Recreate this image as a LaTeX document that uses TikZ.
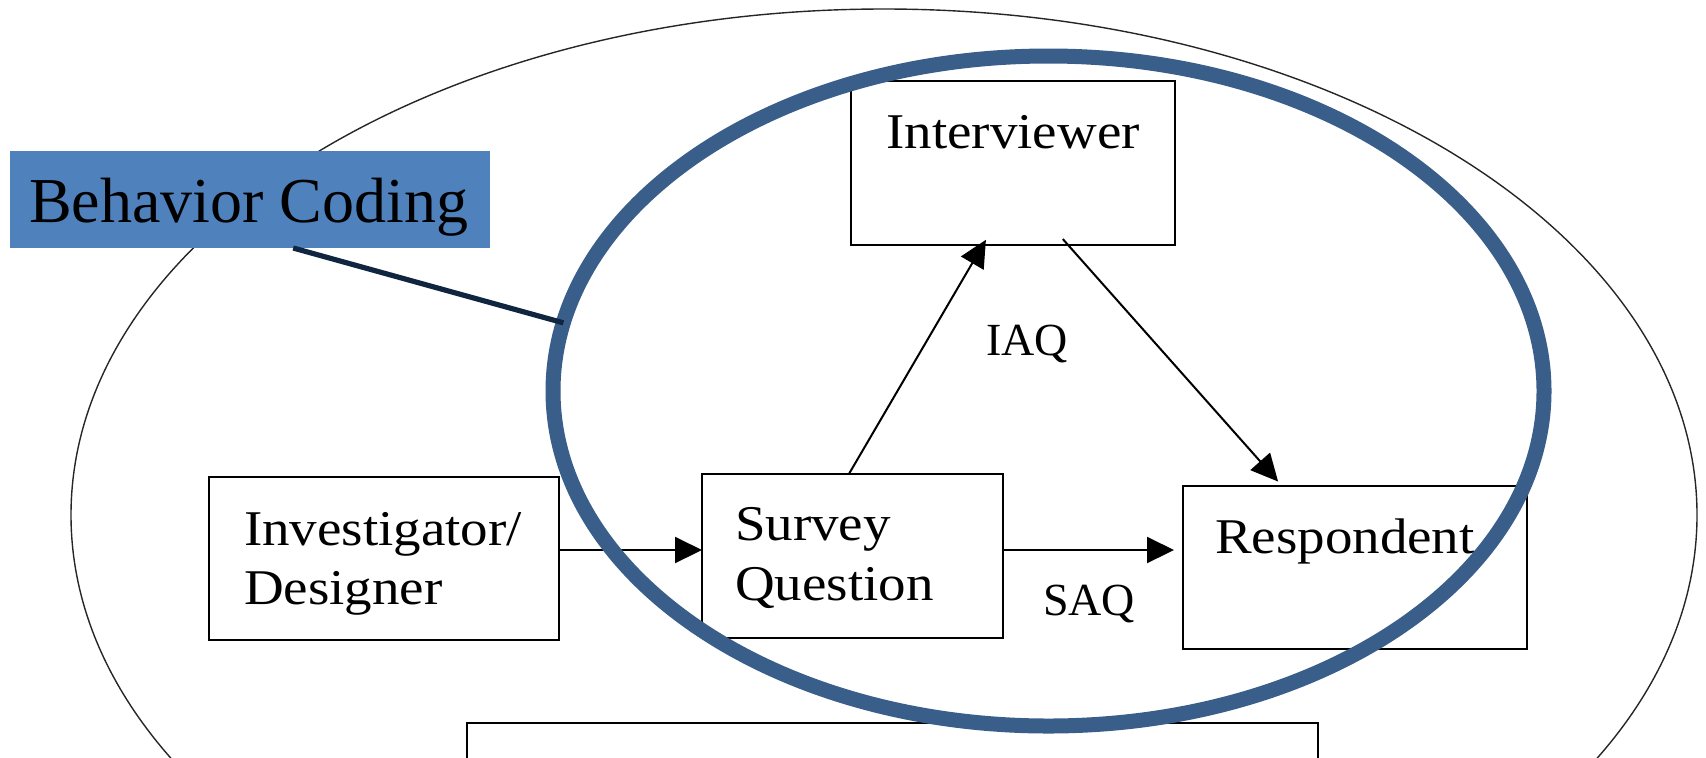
\documentclass[tikz,border=0pt]{standalone}
\usepackage{fontspec}
\setmainfont{Liberation Serif}
\newfontfamily\boxfont[FakeStretch=1.1]{Liberation Serif}
\usetikzlibrary{arrows.meta,shapes.geometric,calc}
\definecolor{bcfill}{HTML}{4F81BD}
\definecolor{ringblue}{HTML}{3A5E8A}
\definecolor{navy}{HTML}{10253F}
\begin{document}
\begin{tikzpicture}[x=0.5pt,y=-0.5pt,
  box/.style={draw=black,line width=1.3pt,inner sep=0pt,outer sep=0pt},
  boxtxt/.style={inner sep=0pt,outer sep=0pt,font=\boxfont\fontsize{25}{30}\selectfont},
  lbl/.style={inner sep=0pt,outer sep=0pt,font=\fontsize{23}{27}\selectfont,anchor=base west},
  arr/.style={-{Triangle[length=13.5pt,width=13pt]},line width=1pt,draw=black}]
\useasboundingbox (0,0) rectangle (1706,757);
\clip (0,0) rectangle (1706,757);
% outer ellipse
\node[draw=black!85,line width=0.7pt,ellipse,minimum width=813pt,minimum height=506pt,inner sep=0pt,outer sep=0pt] (outer) at (884,515) {};
% boxes
\node[box,minimum width=162pt,minimum height=82pt] (int) at (1013,163) {};
\node[box,minimum width=175pt,minimum height=81.5pt] (inv) at (384,558.5) {};
\node[box,minimum width=150.5pt,minimum height=82pt] (sq) at (852.5,556) {};
\node[box,minimum width=172pt,minimum height=81.5pt] (resp) at (1355,567.5) {};
\node[box,minimum width=425.5pt,minimum height=88.5pt] (bot) at (892.5,811.5) {};
% box texts
\node[boxtxt,anchor=base] (intT) at (1013,148) {Interviewer};
\node[boxtxt,anchor=base west] (invT1) at (244,545) {Investigator/};
\node[boxtxt,anchor=base west] (invT2) at (244,604) {Designer};
\node[boxtxt,anchor=base west] (sqT1) at (735,540) {Survey};
\node[boxtxt,anchor=base west] (sqT2) at (735,600) {Question};
\node[boxtxt,anchor=base west] (respT) at (1215,553) {Respondent};
% labels
\node[lbl] (iaq) at (986,355) {IAQ};
\node[lbl] (saq) at (1043,615) {SAQ};
% arrows
\coordinate (a1) at ([yshift=4.25pt]inv.east);
\draw[arr] (a1) -- (a1 -| sq.west);
\coordinate (a2) at ([yshift=3pt]sq.east);
\draw[arr,shorten >=4.5pt] (a2) -- (a2 -| resp.west);
\draw[arr,shorten >=-3pt] ($(sq.north west)!0.488!(sq.north east)$) -- ($(int.south west)!0.407!(int.south east)$);
\draw[arr,shorten <=-4pt,shorten >=3pt] ($(int.south west)!0.67!(int.south east)$) -- ($(resp.north west)!0.288!(resp.north east)$);
% behavior coding callout
\node[fill=bcfill,minimum width=240pt,minimum height=48.5pt,inner sep=0pt,outer sep=0pt] (bc) at (250,199.5) {};
\node[inner sep=0pt,outer sep=0pt,anchor=base west,font=\fontsize{32}{38}\selectfont] (bcT) at (29,222) {Behavior Coding};
\node[ellipse,draw=ringblue,line width=7.5pt,minimum width=495.5pt,minimum height=335pt,inner sep=0pt,outer sep=0pt] (ring) at (1048.5,391) {};
\draw[navy,line width=2.6pt] ($(bc.south west)!0.59!(bc.south east)$) -- (ring.172);
\end{tikzpicture}
\end{document}
